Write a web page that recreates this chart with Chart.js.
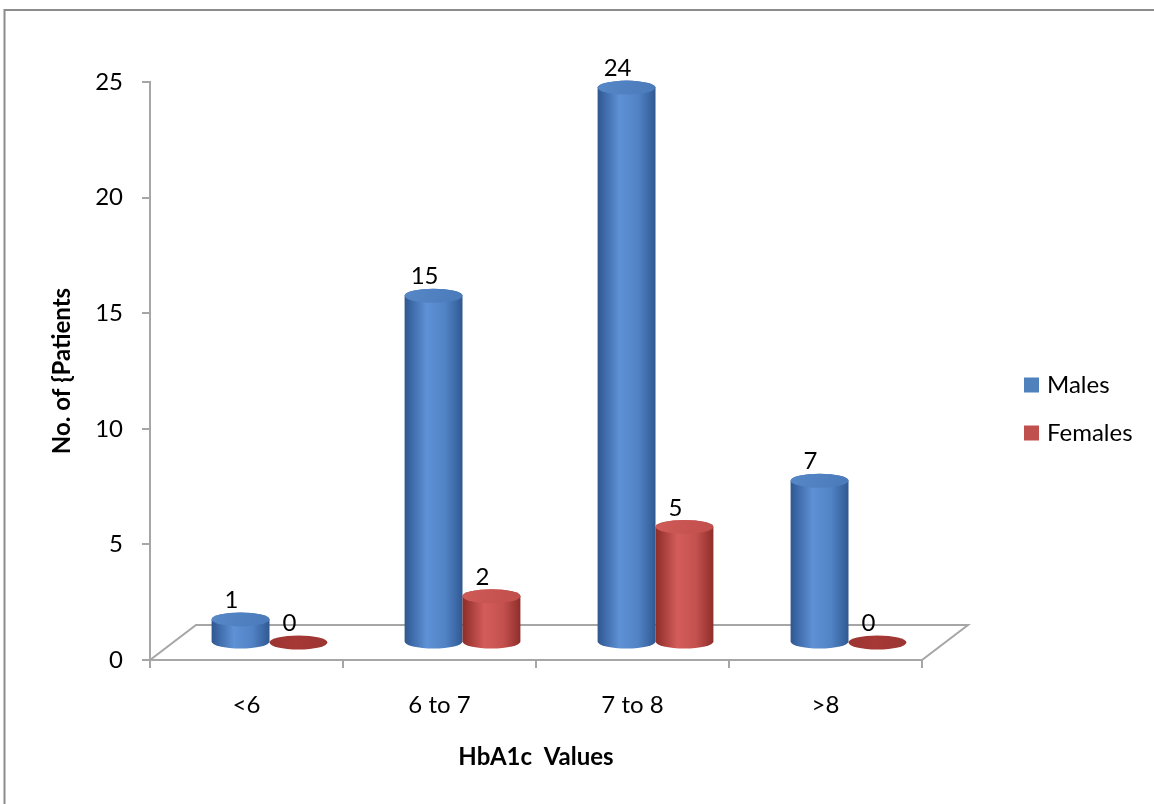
<!DOCTYPE html>
<html>
<head>
<meta charset="utf-8">
<title>HbA1c Values by Gender</title>
<script src="https://cdn.jsdelivr.net/npm/chart.js@4.4.1/dist/chart.umd.min.js"></script>
<style>
  html, body { margin: 0; padding: 0; background: #ffffff; }
  canvas { display: block; }
</style>
</head>
<body>
<canvas id="chart" width="1154" height="804"></canvas>
<script>
// ---- data ----
const categories = ['<6', '6 to 7', '7 to 8', '>8'];
const seriesNames = ['Males', 'Females'];
const males = [1, 15, 24, 7];
const females = [0, 2, 5, 0];
const yTicks = [0, 5, 10, 15, 20, 25];

// ---- styling ----
const FONT = 'Lato, "Open Sans", sans-serif';
const FONT_SIZE = 24;
const AXIS_GRAY = '#a6a6a6';
const DEPTH = { dx: 46, dy: -35 };           // floor depth offset
const palettes = [
  { dark: '#3863a0', light: '#5e91d5', mid: '#5183c5', edge: '#30588d', top: '#4a7aba', topLight: '#5687c7', zero: '#3d6aa6', legend: '#4f81bd' },
  { dark: '#9c3633', light: '#d45d5a', mid: '#c4514e', edge: '#8c2e2b', top: '#c24e4b', topLight: '#cf5b58', zero: '#a63835', legend: '#c0504d' }
];

function drawCylinder(ctx, cx, top, bottom, rx, ry, pal) {
  if (bottom - top < 0.5) {
    const gz = ctx.createLinearGradient(cx - rx, 0, cx + rx, 0);
    gz.addColorStop(0, pal.dark);
    gz.addColorStop(0.45, pal.zero);
    gz.addColorStop(1, pal.dark);
    ctx.beginPath();
    ctx.ellipse(cx, bottom, rx, ry, 0, 0, Math.PI * 2);
    ctx.fillStyle = gz;
    ctx.fill();
    return;
  }
  const g = ctx.createLinearGradient(cx - rx, 0, cx + rx, 0);
  g.addColorStop(0, pal.edge);
  g.addColorStop(0.08, pal.dark);
  g.addColorStop(0.38, pal.light);
  g.addColorStop(0.7, pal.mid);
  g.addColorStop(0.93, pal.dark);
  g.addColorStop(1, pal.edge);
  ctx.beginPath();
  ctx.moveTo(cx - rx, top);
  ctx.lineTo(cx - rx, bottom);
  ctx.ellipse(cx, bottom, rx, ry, 0, Math.PI, 0, true);
  ctx.lineTo(cx + rx, top);
  ctx.ellipse(cx, top, rx, ry, 0, 0, Math.PI, true);
  ctx.closePath();
  ctx.fillStyle = g;
  ctx.fill();

  const gt = ctx.createLinearGradient(cx - rx, top - ry, cx + rx, top + ry);
  gt.addColorStop(0, pal.topLight);
  gt.addColorStop(1, pal.top);
  ctx.beginPath();
  ctx.ellipse(cx, top, rx, ry, 0, 0, Math.PI * 2);
  ctx.fillStyle = gt;
  ctx.fill();
}

// white page with the outer frame lines
const framePlugin = {
  id: 'frame',
  beforeDraw(chart) {
    const { ctx, width, height } = chart;
    ctx.save();
    ctx.fillStyle = '#ffffff';
    ctx.fillRect(0, 0, width, height);
    ctx.strokeStyle = '#8c8c8c';
    ctx.lineWidth = 2;
    ctx.beginPath();
    ctx.moveTo(4.5, height);
    ctx.lineTo(4.5, 10);
    ctx.lineTo(width, 10);
    ctx.stroke();
    ctx.restore();
  }
};

// 3D floor under the cylinders
const floorPlugin = {
  id: 'floor',
  beforeDatasetsDraw(chart) {
    const { ctx, chartArea } = chart;
    const { left, right, bottom } = chartArea;
    ctx.save();
    ctx.strokeStyle = AXIS_GRAY;
    ctx.lineWidth = 2;
    ctx.beginPath();
    ctx.moveTo(left, bottom);
    ctx.lineTo(left + DEPTH.dx, bottom + DEPTH.dy);
    ctx.lineTo(right + DEPTH.dx, bottom + DEPTH.dy);
    ctx.lineTo(right, bottom);
    ctx.stroke();
    ctx.restore();
  }
};

// cylinders and value labels drawn from the bar elements
const cylinderPlugin = {
  id: 'cylinders',
  afterDatasetsDraw(chart) {
    const { ctx } = chart;
    const sx = DEPTH.dx / 2, sy = DEPTH.dy / 2;
    ctx.save();
    chart.data.datasets.forEach((ds, di) => {
      const meta = chart.getDatasetMeta(di);
      meta.data.forEach((el, i) => {
        const { x, y, base, width } = el.getProps(['x', 'y', 'base', 'width'], true);
        const cx = x + sx;
        const top = y + sy;
        const bottom = base + sy;
        drawCylinder(ctx, cx, top, bottom, width / 2, 7, palettes[di]);
        ctx.fillStyle = '#000000';
        ctx.font = FONT_SIZE + 'px ' + FONT;
        ctx.textAlign = 'center';
        ctx.textBaseline = 'middle';
        ctx.fillText(String(ds.data[i]), cx - 9, top - 19);
      });
    });
    ctx.restore();
  }
};

// legend on the right
const legendPlugin = {
  id: 'sideLegend',
  afterDraw(chart) {
    const { ctx } = chart;
    ctx.save();
    ctx.font = FONT_SIZE + 'px ' + FONT;
    ctx.textAlign = 'left';
    ctx.textBaseline = 'middle';
    chart.data.datasets.forEach((ds, di) => {
      const cy = 385 + di * 48;
      ctx.fillStyle = palettes[di].legend;
      ctx.fillRect(1024, cy - 7.5, 15, 15);
      ctx.fillStyle = '#000000';
      ctx.fillText(ds.label, 1047, cy);
    });
    ctx.restore();
  }
};

new Chart(document.getElementById('chart'), {
  type: 'bar',
  data: {
    labels: categories,
    datasets: [
      { label: seriesNames[0], data: males, backgroundColor: 'rgba(0,0,0,0)', borderWidth: 0 },
      { label: seriesNames[1], data: females, backgroundColor: 'rgba(0,0,0,0)', borderWidth: 0 }
    ]
  },
  options: {
    responsive: false,
    animation: false,
    events: [],
    categoryPercentage: 0.6,
    barPercentage: 1.0,
    layout: { padding: { top: 82, right: 232, bottom: 0, left: 0 } },
    plugins: {
      legend: { display: false },
      tooltip: { enabled: false },
      title: { display: false }
    },
    scales: {
      x: {
        offset: true,
        grid: { display: true, drawOnChartArea: false, drawTicks: true, tickLength: 8, color: AXIS_GRAY, lineWidth: 2, offset: true },
        border: { display: true, color: AXIS_GRAY, width: 2 },
        ticks: { color: '#000000', font: { family: FONT, size: FONT_SIZE }, padding: 22.5, maxRotation: 0 },
        title: {
          display: true, text: 'HbA1c  Values', color: '#000000',
          font: { family: FONT, size: FONT_SIZE, weight: 'bold' },
          padding: { top: 0, bottom: 32.5 }
        },
        afterFit(scale) { scale.height = 144; }
      },
      y: {
        min: 0, max: 25,
        afterBuildTicks(scale) { scale.ticks = yTicks.map(v => ({ value: v })); },
        grid: { display: true, drawOnChartArea: false, drawTicks: true, tickLength: 8, color: AXIS_GRAY, lineWidth: 2 },
        border: { display: true, color: AXIS_GRAY, width: 2 },
        ticks: { color: '#000000', font: { family: FONT, size: FONT_SIZE }, padding: 19 },
        title: {
          display: true, text: 'No. of {Patients', color: '#000000',
          font: { family: FONT, size: FONT_SIZE, weight: 'bold' },
          padding: { top: 47.5, bottom: 0 }
        },
        afterFit(scale) { scale.width = 150; }
      }
    }
  },
  plugins: [framePlugin, floorPlugin, cylinderPlugin, legendPlugin]
});
</script>
</body>
</html>
